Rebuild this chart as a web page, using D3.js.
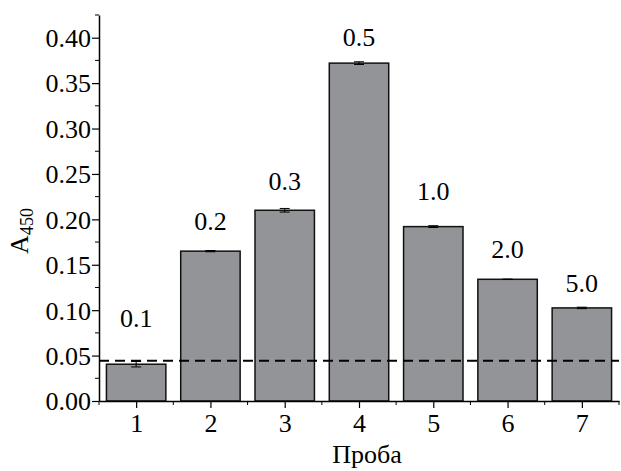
<!DOCTYPE html>
<html>
<head>
<meta charset="utf-8">
<script src="https://cdn.jsdelivr.net/npm/d3@7"></script>
<style>
  body { margin: 0; background: #fff; }
  svg text { font-family: "Times New Roman", "Liberation Serif", "DejaVu Serif", serif; }
</style>
</head>
<body>
<svg id="chart" width="621" height="471"></svg>
<script>
// data
var samples = [1, 2, 3, 4, 5, 6, 7];
var absorb = [0.0405, 0.165, 0.210, 0.372, 0.192, 0.134, 0.1025];
var errs = [0.003, 0.0007, 0.002, 0.0015, 0.001, 0, 0.0008];
var conc = ["0.1", "0.2", "0.3", "0.5", "1.0", "2.0", "5.0"];
var labelAt = [0.0815, 0.188, 0.232, 0.391, 0.221, 0.157, 0.120];
var cutoff = 0.0443;
var yTicks = [0, 0.05, 0.10, 0.15, 0.20, 0.25, 0.30, 0.35, 0.40];

var serif = "'Times New Roman', 'Liberation Serif', 'DejaVu Serif', serif";

var margin = {top: 15, right: 2, bottom: 70, left: 99};
var width = 621 - margin.left - margin.right,
    height = 471 - margin.top - margin.bottom;

var svg = d3.select("#chart");
var group = svg.append("g")
    .attr("transform", "translate(" + margin.left + "," + margin.top + ")");

var x = d3.scaleLinear().domain([0.5, 7.5]).range([0, width]),
    y = d3.scaleLinear().domain([0, 0.425]).range([height, 0]);

var barW = (x(1) - x(0)) * 0.8;

// bars
group.selectAll(".bar")
  .data(samples)
  .enter().append("rect")
    .attr("class", "bar")
    .attr("x", function(d) { return x(d) - barW / 2; })
    .attr("y", function(d, i) { return y(absorb[i]); })
    .attr("width", barW)
    .attr("height", function(d, i) { return height - y(absorb[i]); })
    .style("fill", "#939497")
    .style("stroke", "#111")
    .style("stroke-width", 1.5);

// error bars
var eb = group.selectAll(".err")
  .data(samples)
  .enter().append("g")
    .attr("class", "err")
    .style("stroke", "#000")
    .style("stroke-width", 1);
eb.append("line")
    .attr("x1", function(d) { return x(d); })
    .attr("x2", function(d) { return x(d); })
    .attr("y1", function(d, i) { return y(absorb[i] - errs[i]); })
    .attr("y2", function(d, i) { return y(absorb[i] + errs[i]); });
[-1, 1].forEach(function(s) {
  eb.append("line")
    .attr("x1", function(d) { return x(d) - 5; })
    .attr("x2", function(d) { return x(d) + 5; })
    .attr("y1", function(d, i) { return y(absorb[i] + s * errs[i]); })
    .attr("y2", function(d, i) { return y(absorb[i] + s * errs[i]); });
});

// dashed cutoff
group.append("line")
    .attr("x1", 0).attr("x2", width)
    .attr("y1", y(cutoff)).attr("y2", y(cutoff))
    .style("stroke", "#000")
    .style("stroke-width", 2)
    .style("stroke-dasharray", "10,6");

// concentration labels
group.selectAll(".lab")
  .data(samples)
  .enter().append("text")
    .attr("x", function(d) { return x(d); })
    .attr("y", function(d, i) { return y(labelAt[i]); })
    .attr("text-anchor", "middle")
    .style("font-family", serif)
    .style("font-size", "26px")
    .text(function(d, i) { return conc[i]; });

// axes
var xAxis = group.append("g")
    .attr("transform", "translate(0," + height + ")");
xAxis.call(d3.axisBottom(x).tickValues(samples).tickFormat(d3.format("d")).tickSize(7).tickSizeOuter(0));
xAxis.selectAll(".minor")
  .data(d3.range(0.5, 8, 1))
  .enter().append("line")
    .attr("x1", function(d) { return x(d); })
    .attr("x2", function(d) { return x(d); })
    .attr("y1", 0).attr("y2", 4)
    .style("stroke", "#000");

var yAxis = group.append("g");
yAxis.call(d3.axisLeft(y).tickValues(yTicks).tickFormat(d3.format(".2f")).tickSize(7).tickSizeOuter(0));
yAxis.selectAll(".minor")
  .data(d3.range(0.025, 0.43, 0.05))
  .enter().append("line")
    .attr("x1", 0).attr("x2", -4)
    .attr("y1", function(d) { return y(d); })
    .attr("y2", function(d) { return y(d); })
    .style("stroke", "#000");

xAxis.attr("font-family", null).attr("font-size", null);
yAxis.attr("font-family", null).attr("font-size", null);
group.selectAll(".domain").style("stroke-width", 1.5);
group.selectAll(".tick line").style("stroke-width", 1.2);
group.selectAll(".tick text")
    .style("font-size", "26px")
    .style("font-family", serif)
    .style("fill", "#000");
xAxis.selectAll(".tick text").attr("dy", "0.8em");
yAxis.selectAll(".tick text").attr("x", -8).attr("dy", "0.34em");

// axis titles
svg.append("text")
    .attr("x", 367)
    .attr("y", 463)
    .attr("text-anchor", "middle")
    .style("font-family", serif)
    .style("font-size", "26px")
    .text("Проба");

var yt = svg.append("text")
    .attr("transform", "translate(28,231) rotate(-90)")
    .attr("text-anchor", "middle")
    .style("font-family", serif)
    .style("font-size", "26px");
yt.append("tspan").text("A");
yt.append("tspan").attr("dy", 5).style("font-size", "18px").text("450");
</script>
</body>
</html>
